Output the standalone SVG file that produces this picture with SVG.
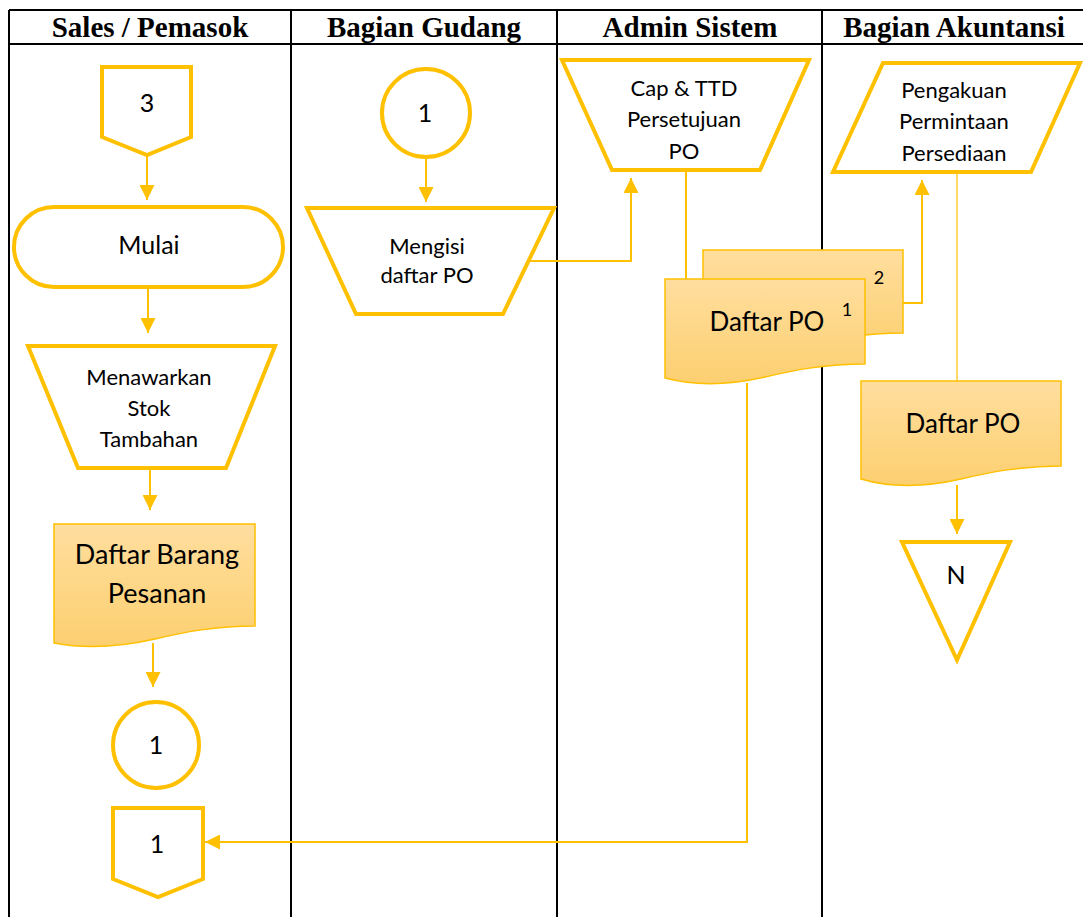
<svg xmlns="http://www.w3.org/2000/svg" width="1083" height="917" viewBox="0 0 1083 917">
  <defs>
    <style>
      .grid { stroke: #000; stroke-width: 2; fill: none; }
      .head { font-family: "Liberation Serif", "Times New Roman", serif; font-weight: bold; font-size: 29px; fill: #000; text-anchor: middle; }
      .shape { fill: #fff; stroke: #FFC000; stroke-width: 4; stroke-linejoin: miter; }
      .doc { fill: url(#docFill); stroke: #FFC000; stroke-width: 1.5; }
      .lbl { font-family: Lato, "Liberation Sans", Arial, sans-serif; fill: #000; text-anchor: middle; }
      .s20 { font-size: 22px; }
      .s24 { font-size: 25px; }
      .s26 { font-size: 26px; }
      .s27 { font-size: 27px; }
      .flow { fill: none; stroke: #FFC000; stroke-width: 2; }
      .thin { fill: none; stroke: #FFC000; stroke-width: 1.2; }
      .arrow { marker-end: url(#head); }
    </style>
    <linearGradient id="docFill" x1="0" y1="0" x2="0" y2="1">
      <stop offset="0" stop-color="#FFDE9E"/>
      <stop offset="1" stop-color="#FCCF70"/>
    </linearGradient>
    <marker id="head" viewBox="0 0 10 10" refX="10" refY="5" markerWidth="15" markerHeight="15" markerUnits="userSpaceOnUse" orient="auto">
      <path d="M0,0 L10,5 L0,10 Z" fill="#FFC000"/>
    </marker>
  </defs>

  <rect width="1083" height="917" fill="#fff"/>

  <!-- swimlane table -->
  <g id="lanes">
    <path class="grid" d="M9,10 H1083 M9,44 H1083 M9,10 V917 M291,10 V917 M557,10 V917 M822,10 V917"/>
    <text class="head" x="150" y="37">Sales / Pemasok</text>
    <text class="head" x="424" y="37">Bagian Gudang</text>
    <text class="head" x="690" y="37">Admin Sistem</text>
    <text class="head" x="954" y="37">Bagian Akuntansi</text>
  </g>

  <!-- connectors -->
  <g id="connectors">
    <path class="flow arrow" d="M147,155 V200"/>
    <path class="flow arrow" d="M148,287 V333"/>
    <path class="flow arrow" d="M150,468 V510"/>
    <path class="flow arrow" d="M153,643 V687"/>
    <path class="flow arrow" d="M426,157 V202"/>
    <path class="flow arrow" d="M529,261 H631 V178"/>
    <path class="flow" d="M686,170 V279"/>
    <path class="flow arrow" d="M903,303 H922 V180"/>
    <path class="thin" d="M957,172 V381"/>
    <path class="flow arrow" d="M957,485 V534"/>
    <path class="flow arrow" d="M747,383 V842 H205"/>
  </g>

  <!-- Sales / Pemasok lane -->
  <g id="offpage-3">
    <polygon class="shape" points="102,67 191,67 191,137 147,155 102,137"/>
    <text class="lbl s24" x="147" y="112">3</text>
  </g>
  <g id="mulai">
    <rect class="shape" x="14" y="207" width="269" height="80" rx="40" ry="40"/>
    <text class="lbl s24" x="149" y="254">Mulai</text>
  </g>
  <g id="menawarkan">
    <polygon class="shape" points="28,346 275,346 226,468 78,468"/>
    <text class="lbl s20" x="149" y="385">Menawarkan</text>
    <text class="lbl s20" x="149" y="416">Stok</text>
    <text class="lbl s20" x="149" y="447">Tambahan</text>
  </g>
  <g id="daftar-barang">
    <path class="doc" d="M54,524 H255 V626 C215,626 185,632 155,639 C120,647 85,649 54,643 Z"/>
    <text class="lbl s27" x="157" y="564">Daftar Barang</text>
    <text class="lbl s27" x="157" y="603">Pesanan</text>
  </g>
  <g id="connector-1-sales">
    <circle class="shape" cx="156" cy="745" r="43"/>
    <text class="lbl s24" x="156" y="754">1</text>
  </g>
  <g id="offpage-1">
    <polygon class="shape" points="113,808 203,808 203,879 158,897 113,879"/>
    <text class="lbl s24" x="157" y="853">1</text>
  </g>

  <!-- Bagian Gudang lane -->
  <g id="connector-1-gudang">
    <circle class="shape" cx="426" cy="113" r="44"/>
    <text class="lbl s24" x="425" y="122">1</text>
  </g>
  <g id="mengisi">
    <polygon class="shape" points="307,208 554,208 503,314 356,314"/>
    <text class="lbl s20" x="427" y="254">Mengisi</text>
    <text class="lbl s20" x="427" y="283">daftar PO</text>
  </g>

  <!-- Admin Sistem lane -->
  <g id="cap-ttd">
    <polygon class="shape" points="562,60 809,60 760,170 612,170"/>
    <text class="lbl s20" x="684" y="96">Cap &amp; TTD</text>
    <text class="lbl s20" x="684" y="127">Persetujuan</text>
    <text class="lbl s20" x="684" y="159">PO</text>
  </g>
  <g id="daftar-po-2">
    <path class="doc" d="M703,250 H903 V333 C863,333 833,339 803,346 C768,354 733,355 703,347 Z"/>
    <text class="lbl" font-size="18" x="879" y="284">2</text>
  </g>
  <g id="daftar-po-1">
    <path class="doc" d="M665,279 H865 V364 C825,364 795,370 765,377 C730,385 695,386 665,378 Z"/>
    <text class="lbl s26" x="767" y="331">Daftar PO</text>
    <text class="lbl" font-size="18" x="847" y="316">1</text>
  </g>

  <!-- Bagian Akuntansi lane -->
  <g id="pengakuan">
    <polygon class="shape" points="883,63 1080,63 1031,172 833,172"/>
    <text class="lbl s20" x="954" y="98">Pengakuan</text>
    <text class="lbl s20" x="954" y="129">Permintaan</text>
    <text class="lbl s20" x="954" y="161">Persediaan</text>
  </g>
  <g id="daftar-po-arsip">
    <path class="doc" d="M861,381 H1061 V466 C1021,466 991,472 961,479 C926,487 891,488 861,479 Z"/>
    <text class="lbl s26" x="963" y="433">Daftar PO</text>
  </g>
  <g id="arsip-n">
    <polygon class="shape" points="902,542 1010,542 957,660"/>
    <text class="lbl s24" x="956" y="584">N</text>
  </g>
</svg>
